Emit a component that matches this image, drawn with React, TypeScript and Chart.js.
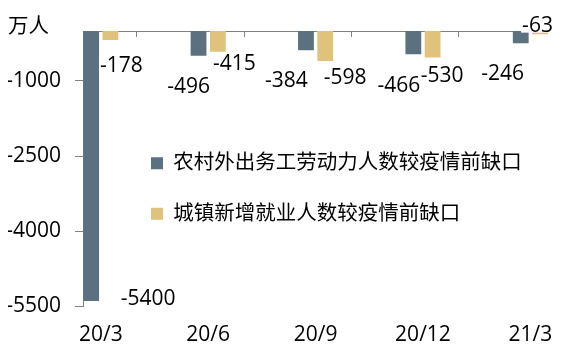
import React, { useEffect, useRef } from 'react';
import { Chart, registerables } from 'chart.js';

Chart.register(...registerables);

// ---- data ----
const CATEGORIES = ['20/3', '20/6', '20/9', '20/12', '21/3'];
const RURAL_GAP = [-5400, -496, -384, -466, -246];
const URBAN_GAP = [-178, -415, -598, -530, -63];
const SERIES_NAMES = ['农村外出务工劳动力人数较疫情前缺口', '城镇新增就业人数较疫情前缺口'];
const Y_TICKS = [-5500, -4000, -2500, -1000];
const UNIT = '万人';

// ---- label nudges (px, relative to bar end) ----
const RURAL_LABEL_NUDGE = [[57, -4], [-10, 30], [-19.5, 29], [-14.5, 30.5], [-18, 29.5]];
const URBAN_LABEL_NUDGE = [[11, 25], [16.5, 11], [20, 16], [9.5, 16.5], [-2.5, -10]];

// ---- styles ----
const FONT = '"Open Sans", "Noto Sans CJK SC", sans-serif';
const AXIS = '#808080';
const RURAL_COLOR = '#5B7180';
const URBAN_COLOR = '#DFC27C';
const X_MIN = -0.1656;
const X_MAX = 4.2134;

const labelPlugin = {
  id: 'barLabels',
  afterDatasetsDraw(chart: any) {
    const ctx = chart.ctx;
    const nudges = [RURAL_LABEL_NUDGE, URBAN_LABEL_NUDGE];
    const items: { x: number; y: number; text: string }[] = [];
    chart.data.datasets.forEach((ds: any, di: number) => {
      const meta = chart.getDatasetMeta(di);
      meta.data.forEach((el: any, i: number) => {
        const [dx, dy] = nudges[di][i];
        items.push({ x: el.x + dx, y: el.y + dy, text: String(ds.data[i].y) });
      });
    });
    ctx.save();
    ctx.font = `21px ${FONT}`;
    ctx.textAlign = 'center';
    ctx.textBaseline = 'alphabetic';
    ctx.fillStyle = '#ffffff';
    items.forEach((it) => {
      const w = ctx.measureText(it.text).width;
      ctx.fillRect(it.x - w / 2 - 1, it.y - 8.5, w + 2, 17);
    });
    ctx.fillStyle = '#000000';
    items.forEach((it) => ctx.fillText(it.text, it.x, it.y + 7.5));
    ctx.restore();
  },
};

const LEGEND_DX = 38;
const LEGEND_DY = 92;
const legendShift = {
  id: 'legendShift',
  afterLayout(chart: any) {
    const lg = chart.legend;
    if (!lg) return;
    lg.left = chart.chartArea.left + LEGEND_DX;
    lg.top = chart.chartArea.top + LEGEND_DY;
  },
};

export default function App() {
  const ref = useRef<HTMLCanvasElement | null>(null);

  useEffect(() => {
    if (!ref.current) return;
    Chart.defaults.font.family = FONT;
    Chart.defaults.color = '#000000';
    const chart = new Chart(ref.current, {
      type: 'bar',
      data: {
        datasets: [
          {
            label: SERIES_NAMES[0],
            data: CATEGORIES.map((_, i) => ({ x: i, y: RURAL_GAP[i] })),
            backgroundColor: RURAL_COLOR,
            borderWidth: 0,
            categoryPercentage: 0.3588,
            barPercentage: 0.8205,
          },
          {
            label: SERIES_NAMES[1],
            data: CATEGORIES.map((_, i) => ({ x: i, y: URBAN_GAP[i] })),
            backgroundColor: URBAN_COLOR,
            borderWidth: 0,
            categoryPercentage: 0.3588,
            barPercentage: 0.8205,
          },
        ],
      },
      options: {
        responsive: false,
        animation: false,
        devicePixelRatio: 1,
        layout: { padding: { left: 8, top: 0, right: 10, bottom: 0 } },
        plugins: {
          title: {
            display: true,
            text: UNIT,
            align: 'start',
            color: '#000000',
            font: { size: 20.5, weight: 'normal', lineHeight: 1 },
            padding: { top: 17.25, bottom: -6.75 },
          },
          legend: {
            position: 'chartArea',
            align: 'start',
            labels: {
              boxWidth: 12,
              boxHeight: 12,
              padding: 30,
              color: '#000000',
              font: { size: 20.5 },
            },
          },
          tooltip: { enabled: false },
        },
        scales: {
          x: {
            type: 'linear',
            position: 'bottom',
            min: X_MIN,
            max: X_MAX,
            offset: false,
            grid: { display: false, drawTicks: false },
            border: { display: false },
            ticks: {
              padding: 16,
              color: '#000000',
              font: { size: 21 },
              maxRotation: 0,
              autoSkip: false,
              callback: (v: any) => CATEGORIES[v as number] ?? '',
            },
            afterBuildTicks: (s: any) => {
              s.ticks = CATEGORIES.map((_, i) => ({ value: i }));
            },
            afterFit: (s: any) => {
              s.height = 56;
            },
          },
          x2: {
            type: 'linear',
            position: 'top',
            min: X_MIN,
            max: X_MAX,
            offset: false,
            grid: { drawOnChartArea: false, drawTicks: true, tickLength: -6, color: AXIS },
            border: { display: true, color: AXIS },
            ticks: { display: false },
            afterBuildTicks: (s: any) => {
              s.ticks = CATEGORIES.map((_, i) => ({ value: i + X_MIN }));
            },
            afterFit: (s: any) => {
              s.height = 0;
            },
          },
          y: {
            type: 'linear',
            min: -5500,
            max: 0,
            grid: { drawOnChartArea: false, tickLength: 8, color: AXIS },
            border: { color: AXIS },
            ticks: {
              padding: 14,
              color: '#000000',
              font: { size: 21 },
              callback: (v: any) => String(v),
            },
            afterBuildTicks: (s: any) => {
              s.ticks = Y_TICKS.map((v) => ({ value: v }));
            },
            afterFit: (s: any) => {
              s.width = 75;
            },
          },
        },
      } as any,
      plugins: [legendShift, labelPlugin],
    });
    return () => chart.destroy();
  }, []);

  return (
    <div style={{ position: 'fixed', left: 0, top: 0, width: 569, height: 362, background: '#ffffff' }}>
      <canvas ref={ref} width={569} height={362} style={{ display: 'block' }} />
    </div>
  );
}
